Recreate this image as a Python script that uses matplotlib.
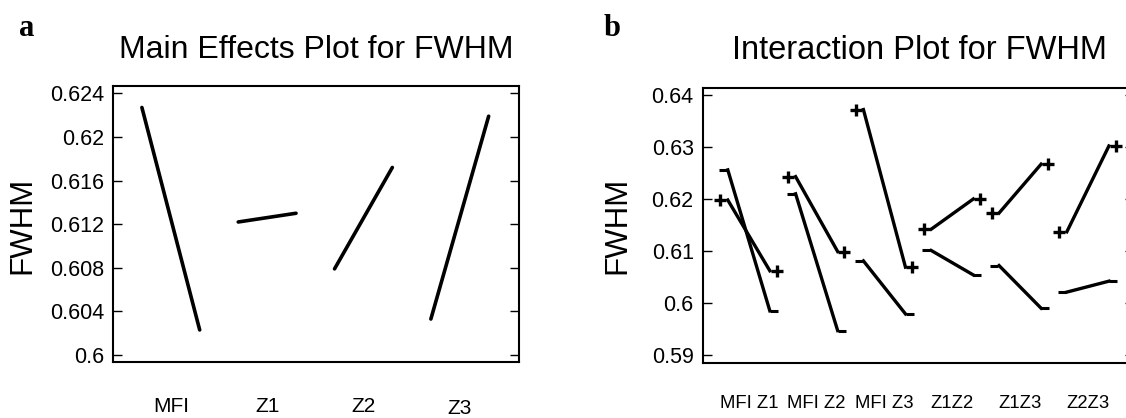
import matplotlib
matplotlib.use("Agg")
import matplotlib.pyplot as plt
import numpy as np

plt.rcParams['font.family'] = ['Liberation Sans', 'DejaVu Sans']

# main effects: FWHM at low / high level of each factor
main_factors = ['MFI', 'Z1', 'Z2', 'Z3']
main_low = [0.6227, 0.6122, 0.6079, 0.6033]
main_high = [0.6023, 0.6130, 0.6172, 0.6219]
main_yticks = [0.6, 0.604, 0.608, 0.612, 0.616, 0.62, 0.624]

# interaction: two lines per pair ('+' and '-' level of the second factor)
inter_pairs = ['MFI Z1', 'MFI Z2', 'MFI Z3', 'Z1Z2', 'Z1Z3', 'Z2Z3']
plus_low = [0.6198, 0.6243, 0.6372, 0.6142, 0.6173, 0.6137]
plus_high = [0.6062, 0.6099, 0.6069, 0.6200, 0.6267, 0.6302]
minus_low = [0.6256, 0.6210, 0.6081, 0.6101, 0.6072, 0.6021]
minus_high = [0.5985, 0.5947, 0.5979, 0.6054, 0.5990, 0.6042]
inter_yticks = [0.59, 0.6, 0.61, 0.62, 0.63, 0.64]

W, H = 1126, 418
fig = plt.figure(figsize=(W / 100, H / 100), dpi=100)


def style_axes(ax, ticks):
    for s in ax.spines.values():
        s.set_linewidth(1.5)
    ax.set_yticks(ticks)
    ax.set_yticklabels(['%g' % t for t in ticks])
    ax.tick_params(axis='y', direction='in', length=6.5, width=1.0,
                   right=True, labelsize=15.5, pad=6.5)
    ax.set_xticks([])


# ---- panel a ----
ax1 = fig.add_axes([113 / W, 1 - 362 / H, 406 / W, 276 / H])
k = np.arange(len(main_factors))
for i in range(len(main_factors)):
    ax1.plot([k[i], k[i] + 0.6], [main_low[i], main_high[i]],
             color='black', lw=2.6, solid_capstyle='round')
ax1.set_xlim(-0.30, 3.915)
ax1.set_ylim(0.59936, 0.62467)
style_axes(ax1, main_yticks)
for i, name in enumerate(main_factors):
    yy = -0.168 if name == 'Z3' else -0.160
    ax1.text(k[i] + 0.3, yy, name, transform=ax1.get_xaxis_transform(),
             ha='center', va='center', fontsize=15)

fig.text(316.5 / W, 1 - 57.5 / H, 'Main Effects Plot for FWHM',
         ha='center', va='baseline', fontsize=23)
fig.text(22.5 / W, 1 - 225.7 / H, 'FWHM', rotation=90,
         ha='center', va='center', fontsize=22.5)
fig.text(19 / W, 1 - 36 / H, 'a', family='Liberation Serif',
         weight='bold', fontsize=22, va='baseline')

# ---- panel b ----
ax2 = fig.add_axes([702.7 / W, 1 - 362.7 / H, 431.3 / W, 274.7 / H])
k2 = np.arange(len(inter_pairs))
for i in range(len(inter_pairs)):
    x0, x1 = k2[i], k2[i] + 0.62
    ax2.plot([x0, x1], [plus_low[i], plus_high[i]], color='black', lw=2.4)
    ax2.plot([x0, x1], [minus_low[i], minus_high[i]], color='black', lw=2.4)
    ax2.plot([x0 - 0.11, x1 + 0.1], [plus_low[i], plus_high[i]],
             ls='none', marker='+', ms=9, mew=2.4, color='black')
    ax2.plot([x0 - 0.07, x1 + 0.06], [minus_low[i], minus_high[i]],
             ls='none', marker='_', ms=5.5, mew=2.2, color='black')
ax2.set_xlim(-0.37, 5.99)
ax2.set_ylim(0.58852, 0.64135)
style_axes(ax2, inter_yticks)
for i, name in enumerate(inter_pairs):
    ax2.text(k2[i] + 0.31, -0.150, name, transform=ax2.get_xaxis_transform(),
             ha='center', va='center', fontsize=13.3)

fig.text(919 / W, 1 - 59 / H, 'Interaction Plot for FWHM',
         ha='center', va='baseline', fontsize=23.5)
fig.text(617 / W, 1 - 225.7 / H, 'FWHM', rotation=90,
         ha='center', va='center', fontsize=22.5)
fig.text(604 / W, 1 - 36 / H, 'b', family='Liberation Serif',
         weight='bold', fontsize=22, va='baseline')

fig.savefig('out.png', dpi=100)
